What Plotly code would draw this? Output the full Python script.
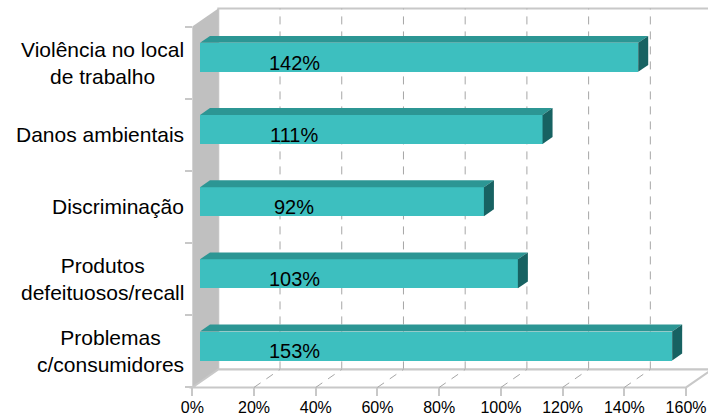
import plotly.graph_objects as go

# ---------------- data ----------------
categories = [
    "Violência no local<br>de trabalho",
    "Danos ambientais",
    "Discriminação",
    "Produtos<br>defeituosos/recall",
    "Problemas<br>c/consumidores",
]
values = [142, 111, 92, 103, 153]
tick_values = [0, 20, 40, 60, 80, 100, 120, 140, 160]
tick_labels = [f"{t}%" for t in tick_values]
value_labels = [f"{v}%" for v in values]

# ---------------- geometry / style ----------------
W, H = 708, 417
PXP = 3.086          # pixels per percent
PXC = 72.17          # pixels per category
BAR_X0_PX = 200.0    # pixel x of 0% on bar front face
BAR_Y0_PX = 346.0    # pixel y of lowest bar centre
DX = 26.0 / PXP      # full depth offset (x, in % units)
DY = 18.0 / PXC      # full depth offset (y, in category units)
D_BAR0 = 0.296       # depth of bar front face
D_BAR1 = D_BAR0 + 10.0 / 26.0
BAR_W = 29.0 / PXC
XMAX = tick_values[-1]
LABEL_X = 33         # value label position (front-plane %)

FRONT = "#3DBFBF"
TOP = "#2C9694"
SIDE = "#176262"
WALL = "#C0C0C0"
EDGE = "#C8C8C8"
GRID = "#A6A6A6"
FONT = "Liberation Sans, Arial, sans-serif"

xmin = -BAR_X0_PX / PXP
xmax = (W - BAR_X0_PX) / PXP
ymin = -(H - BAR_Y0_PX) / PXC
ymax = BAR_Y0_PX / PXC

n = len(categories)
ypos = [n - 1 - k for k in range(n)]


def P(v, u, d):
    return v + (d - D_BAR0) * DX, u + (d - D_BAR0) * DY


def fx(x):
    return (x - xmin) / (xmax - xmin)


def fy(y):
    return (y - ymin) / (ymax - ymin)


def path(pts):
    s = "M " + " L ".join(f"{x},{y}" for x, y in pts) + " Z"
    return s


lo, hi = -0.5, n - 0.5
shapes = []
# back wall
bw0 = P(0, lo, 1)
bw1 = P(XMAX, hi, 1)
shapes.append(dict(type="rect", xref="x", yref="y", x0=bw0[0], y0=bw0[1], x1=bw1[0], y1=bw1[1],
                   fillcolor="white", line=dict(color=EDGE, width=2), layer="below"))
# back gridlines
for t in tick_values[1:-1]:
    a = P(t, lo, 1)
    b = P(t, hi, 1)
    shapes.append(dict(type="line", xref="x", yref="y", x0=a[0], y0=a[1], x1=b[0], y1=b[1],
                       line=dict(color=GRID, width=1, dash="8px,7px"), layer="below"))
# left wall
shapes.append(dict(type="path", xref="x", yref="y",
                   path=path([P(0, lo, 0), P(0, hi, 0), P(0, hi, 1), P(0, lo, 1)]),
                   fillcolor=WALL, line=dict(width=0), layer="below"))
# floor
shapes.append(dict(type="path", xref="x", yref="y",
                   path=path([P(0, lo, 0), P(XMAX, lo, 0), P(XMAX, lo, 1), P(0, lo, 1)]),
                   fillcolor="white", line=dict(color=EDGE, width=2), layer="below"))
# floor gridlines
for t in tick_values[1:-1]:
    a = P(t, lo, 0)
    b = P(t, lo, 1)
    shapes.append(dict(type="line", xref="x", yref="y", x0=a[0], y0=a[1], x1=b[0], y1=b[1],
                       line=dict(color=GRID, width=1, dash="8px,7px"), layer="below"))

fig = go.Figure()

# bar front faces
fig.add_trace(go.Bar(orientation="h", x=values, y=ypos, width=BAR_W,
                     marker=dict(color=FRONT, line=dict(width=0)),
                     hoverinfo="skip", showlegend=False))

# top and side faces
ddx = (D_BAR1 - D_BAR0) * DX
ddy = (D_BAR1 - D_BAR0) * DY
for v, y in zip(values, ypos):
    t = y + BAR_W / 2
    b = y - BAR_W / 2
    fig.add_trace(go.Scatter(x=[0, v, v + ddx, ddx, 0], y=[t, t, t + ddy, t + ddy, t],
                             fill="toself", fillcolor=TOP, mode="lines", line=dict(width=0, color=TOP),
                             hoverinfo="skip", showlegend=False))
    fig.add_trace(go.Scatter(x=[v, v + ddx, v + ddx, v, v], y=[b, b + ddy, t + ddy, t, b],
                             fill="toself", fillcolor=SIDE, mode="lines", line=dict(width=0, color=SIDE),
                             hoverinfo="skip", showlegend=False))

# front-plane axes (ticks)
fig.add_trace(go.Scatter(x=[0] * n, y=categories, xaxis="x2", yaxis="y2", mode="markers",
                         marker=dict(opacity=0), hoverinfo="skip", showlegend=False))

annotations = []
for cat, y in zip(categories, ypos):
    ax, ay = P(-2.2, y, 0)
    annotations.append(dict(x=ax, y=ay, xref="x", yref="y", text=cat, showarrow=False,
                            xanchor="right", yanchor="middle", align="center",
                            font=dict(family=FONT, size=21, color="black")))
for lab, y in zip(value_labels, ypos):
    ax, ay = P(LABEL_X, y, 0)
    annotations.append(dict(x=ax, y=ay, xref="x", yref="y", text=lab, showarrow=False,
                            xanchor="center", yanchor="middle",
                            font=dict(family=FONT, size=20, color="black")))

fx0 = P(0, lo, 0)
fx1 = P(XMAX, hi, 0)

fig.update_layout(
    width=W, height=H, autosize=False,
    margin=dict(l=0, r=0, t=0, b=0, pad=0, autoexpand=False),
    paper_bgcolor="white", plot_bgcolor="rgba(0,0,0,0)",
    showlegend=False, bargap=0,
    shapes=shapes, annotations=annotations,
    xaxis=dict(range=[xmin, xmax], visible=False, domain=[0, 1], fixedrange=True, automargin=False),
    yaxis=dict(range=[ymin, ymax], visible=False, domain=[0, 1], fixedrange=True, automargin=False),
    xaxis2=dict(domain=[fx(fx0[0]), fx(fx1[0])], range=[0, XMAX], anchor="free",
                position=fy(fx0[1]), tickvals=tick_values, ticktext=tick_labels,
                ticks="outside", ticklen=8, tickwidth=2, tickcolor=EDGE, automargin=False,
                ticklabelstandoff=-3,
                showline=False, showgrid=False, zeroline=False, fixedrange=True,
                tickfont=dict(family=FONT, size=16, color="black")),
    yaxis2=dict(domain=[fy(fx0[1]), fy(fx1[1])], type="category", categoryorder="array",
                categoryarray=categories[::-1], range=[lo, hi], anchor="free",
                position=fx(fx0[0]), ticks="outside", tickson="boundaries", ticklen=7,
                tickwidth=2, tickcolor=EDGE, showticklabels=False, showgrid=False, automargin=False,
                showline=False, zeroline=False, fixedrange=True),
)

fig.write_html(
    "out.html",
    config={"displayModeBar": False},
    post_script="document.body.style.margin='0';document.body.style.padding='0';"
                "document.body.style.overflow='hidden';",
)
